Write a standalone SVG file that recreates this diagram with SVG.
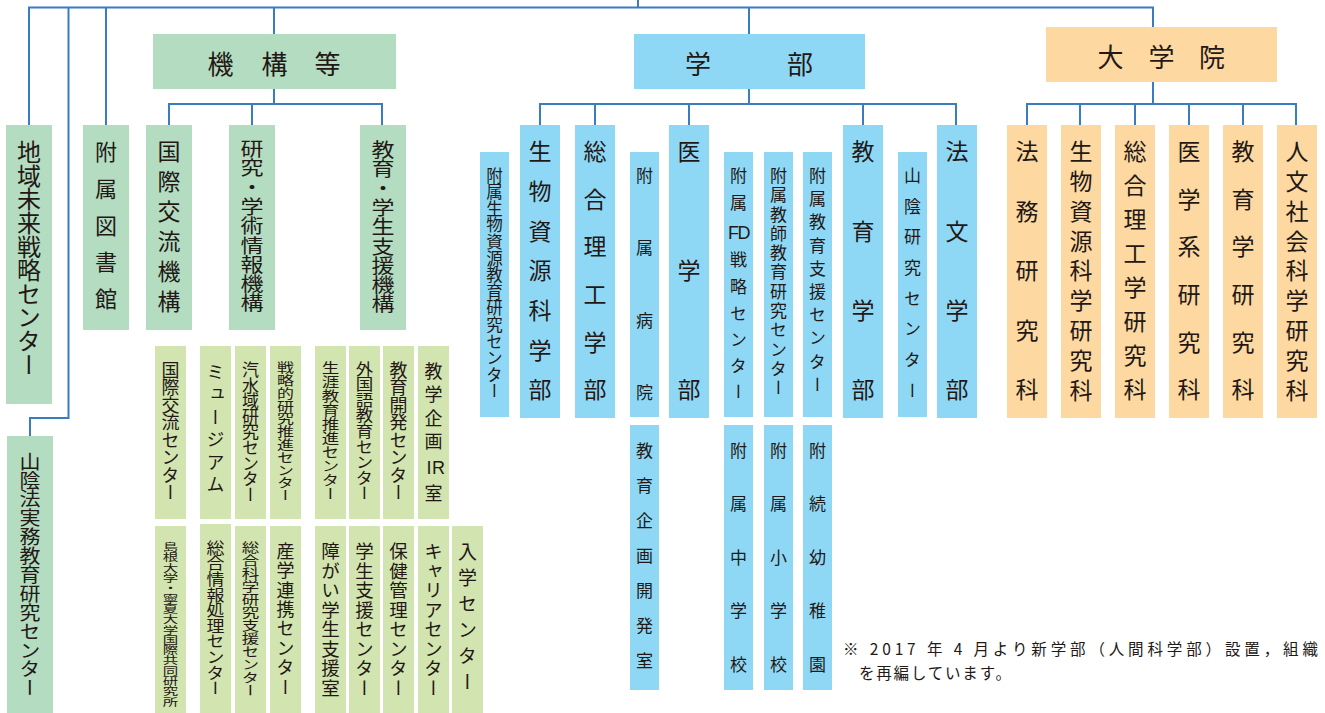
<svg xmlns="http://www.w3.org/2000/svg" width="1325" height="713" viewBox="0 0 1325 713">
<style>
.g{fill:#b3dcc1}.lg{fill:#d2e4b0}.b{fill:#8ed8f6}.o{fill:#fdd8a1}
.v{writing-mode:vertical-rl;text-orientation:upright;font-family:"Noto Sans CJK JP","Noto Sans CJK SC",sans-serif;fill:#231815}
.h{font-family:"Noto Sans CJK JP","Noto Sans CJK SC",sans-serif;fill:#231815;font-size:26px;text-anchor:middle;dominant-baseline:central}
.c{fill:none;stroke:#3a7cc0;stroke-width:2}
.lat{font-family:"Liberation Sans Narrow","Liberation Sans",sans-serif}
.note{font-family:"Noto Sans CJK JP","Noto Sans CJK SC",sans-serif;fill:#231815;font-size:15.5px}
</style>
<rect width="1325" height="713" fill="#fff"/>
<g id="connectors" class="c">
<path d="M638 0V7.5M29 125V7.5H1153V27M68.5 7.5V418H30V436M106 7.5V125M274 7.5V34M749 7.5V34"/>
<path d="M274 89V104M169 125V104H382V125M252 104V125"/>
<path d="M749 89V104M540 125V104H956V125M595 104V125M689 104V125M863 104V125"/>
<path d="M1153 82V104M1027 125V104H1296V125M1080 104V125M1135 104V125M1189 104V125M1243 104V125"/>
</g>
<g id="chiiki"><rect class="g" x="6" y="125" width="46" height="279"/><text class="v" x="29" y="140" font-size="24" letter-spacing="-0.4">地域未来戦略センター</text></g>
<g id="sanin-ho"><rect class="g" x="7" y="436" width="46" height="277"/><text class="v" transform="translate(30 452) scale(1 0.9)" font-size="21">山陰法実務教育研究センター</text></g>
<g id="library"><rect class="g" x="83" y="125" width="46" height="205"/><text class="v" x="106" y="141" font-size="22" letter-spacing="14.7">附属図書館</text></g>
<g id="kikou"><rect class="g" x="153" y="34" width="243" height="55"/><text class="h" x="220.5 274.5 327.5" y="62">機構等</text></g>
<g id="kokusai-kikou"><rect class="g" x="146" y="125" width="46" height="205"/><text class="v" x="169" y="140" font-size="23" letter-spacing="7">国際交流機構</text></g>
<g id="kenkyu-kikou"><rect class="g" x="229" y="125" width="46" height="205"/><text class="v" transform="translate(252 139) scale(1 0.84)" font-size="23">研究・学術情報機構</text></g>
<g id="kyouiku-kikou"><rect class="g" x="360" y="125" width="46" height="205"/><text class="v" transform="translate(383 140) scale(1 0.84)" font-size="23">教育・学生支援機構</text></g>

<g id="s1"><rect class="lg" x="155" y="346" width="31" height="173"/><text class="v" x="170.5" y="361" font-size="18" letter-spacing="-0.5">国際交流センター</text></g>
<g id="s2"><rect class="lg" x="200" y="346" width="31" height="173"/><text class="v" x="215.5" y="363" font-size="18" letter-spacing="4.5">ミュージアム</text></g>
<g id="s3"><rect class="lg" x="235" y="346" width="31" height="173"/><text class="v" x="250.5" y="361" font-size="17" letter-spacing="-1.4">汽水域研究センター</text></g>
<g id="s4"><rect class="lg" x="270" y="346" width="31" height="173"/><text class="v" transform="translate(285.5 361) scale(1 0.753)" font-size="17">戦略的研究推進センター</text></g>
<g id="s5"><rect class="lg" x="315" y="346" width="31" height="173"/><text class="v" transform="translate(330.5 361) scale(1 0.8)" font-size="17.5">生涯教育推進センター</text></g>
<g id="s6"><rect class="lg" x="349" y="346" width="31" height="173"/><text class="v" transform="translate(364.5 361) scale(1 0.89)" font-size="17.5">外国語教育センター</text></g>
<g id="s7"><rect class="lg" x="383" y="346" width="31" height="173"/><text class="v" x="398.5" y="361" font-size="18" letter-spacing="-0.5">教育開発センター</text></g>
<g id="s8"><rect class="lg" x="418" y="346" width="31" height="173"/><text class="v" x="433.5 433.5 433.5 433.5 429 438.5 433.5" y="362 385 409 432 458 458 484" font-size="18">教学企画<tspan class="lat">IR</tspan>室</text></g>

<g id="t1"><rect class="lg" x="155" y="526" width="31" height="187"/><text class="v" transform="translate(170.5 542) scale(1 0.665)" font-size="15.5">島根大学・寧夏大学国際共同研究所</text></g>
<g id="t2"><rect class="lg" x="200" y="524" width="31" height="189"/><text class="v" transform="translate(215.5 540) scale(1 0.867)" font-size="18">総合情報処理センター</text></g>
<g id="t3"><rect class="lg" x="235" y="526" width="31" height="187"/><text class="v" transform="translate(250.5 541) scale(1 0.743)" font-size="17.5">総合科学研究支援センター</text></g>
<g id="t4"><rect class="lg" x="270" y="526" width="31" height="187"/><text class="v" x="285.5" y="542" font-size="18" letter-spacing="1.4">産学連携センター</text></g>
<g id="t5"><rect class="lg" x="315" y="526" width="31" height="187"/><text class="v" x="330.5" y="542" font-size="18.5" letter-spacing="1">障がい学生支援室</text></g>
<g id="t6"><rect class="lg" x="349" y="526" width="31" height="187"/><text class="v" x="364.5" y="542" font-size="18.5" letter-spacing="1">学生支援センター</text></g>
<g id="t7"><rect class="lg" x="383" y="526" width="31" height="187"/><text class="v" x="398.5" y="542" font-size="18.5" letter-spacing="1">保健管理センター</text></g>
<g id="t8"><rect class="lg" x="418" y="526" width="31" height="187"/><text class="v" x="433.5" y="542" font-size="18.5" letter-spacing="1">キャリアセンター</text></g>
<g id="t9"><rect class="lg" x="452" y="526" width="31" height="187"/><text class="v" x="467.5" y="542" font-size="19" letter-spacing="7">入学センター</text></g>

<g id="gakubu"><rect class="b" x="634" y="34" width="231" height="55"/><text class="h" x="698 800" y="62">学部</text></g>
<g id="b1"><rect class="b" x="480" y="152" width="29" height="265"/><text class="v" x="494.5" y="167" font-size="16.5" letter-spacing="0.1">附属生物資源教育研究センター</text></g>
<g id="b2"><rect class="b" x="520" y="125" width="40" height="293"/><text class="v" x="540" y="140" font-size="23" letter-spacing="16.7">生物資源科学部</text></g>
<g id="b3"><rect class="b" x="575" y="125" width="40" height="293"/><text class="v" x="595" y="140" font-size="23" letter-spacing="24.6">総合理工学部</text></g>
<g id="b4"><rect class="b" x="630" y="152" width="29" height="265"/><text class="v" x="644.5" y="167" font-size="17" letter-spacing="55.3">附属病院</text></g>
<g id="b5"><rect class="b" x="669" y="125" width="40" height="293"/><text class="v" x="689" y="140" font-size="23" letter-spacing="96">医学部</text></g>
<g id="b6"><rect class="b" x="724" y="152" width="29" height="265"/><text class="v" x="738.5 738.5 733.5 744 738.5 738.5 738.5 738.5 738.5 738.5" y="167 194 223 223 251 278 305 331 357 383" font-size="17">附属<tspan class="lat" font-size="18">FD</tspan>戦略センター</text></g>
<g id="b7"><rect class="b" x="764" y="152" width="29" height="265"/><text class="v" x="778.5" y="167" font-size="17" letter-spacing="2.3">附属教師教育研究センター</text></g>
<g id="b8"><rect class="b" x="803" y="152" width="29" height="265"/><text class="v" x="817.5" y="167" font-size="17" letter-spacing="6.2">附属教育支援センター</text></g>
<g id="b9"><rect class="b" x="843" y="125" width="40" height="293"/><text class="v" x="863" y="140" font-size="23" letter-spacing="56.3">教育学部</text></g>
<g id="b10"><rect class="b" x="898" y="152" width="29" height="265"/><text class="v" x="912.5" y="167" font-size="17" letter-spacing="13.7">山陰研究センター</text></g>
<g id="b11"><rect class="b" x="937" y="125" width="40" height="293"/><text class="v" x="957" y="140" font-size="23" letter-spacing="56.3">法文学部</text></g>
<g id="c1"><rect class="b" x="630" y="425" width="29" height="265"/><text class="v" x="644.5" y="442" font-size="17" letter-spacing="18">教育企画開発室</text></g>
<g id="c2"><rect class="b" x="724" y="425" width="29" height="265"/><text class="v" x="738.5" y="442" font-size="17" letter-spacing="36.5">附属中学校</text></g>
<g id="c3"><rect class="b" x="764" y="425" width="29" height="265"/><text class="v" x="778.5" y="442" font-size="17" letter-spacing="36.5">附属小学校</text></g>
<g id="c4"><rect class="b" x="803" y="425" width="29" height="265"/><text class="v" x="817.5" y="442" font-size="17" letter-spacing="36.5">附続幼稚園</text></g>

<g id="daigakuin"><rect class="o" x="1046" y="27" width="231" height="55"/><text class="h" x="1110.5 1161.5 1212" y="55">大学院</text></g>
<g id="o1"><rect class="o" x="1007" y="125" width="40" height="293"/><text class="v" x="1027" y="140" font-size="23" letter-spacing="36.5">法務研究科</text></g>
<g id="o2"><rect class="o" x="1061" y="125" width="40" height="293"/><text class="v" x="1081" y="140" font-size="23" letter-spacing="6.8">生物資源科学研究科</text></g>
<g id="o3"><rect class="o" x="1115" y="125" width="40" height="293"/><text class="v" x="1135" y="140" font-size="23" letter-spacing="11">総合理工学研究科</text></g>
<g id="o4"><rect class="o" x="1169" y="125" width="40" height="293"/><text class="v" x="1189" y="140" font-size="23" letter-spacing="24.6">医学系研究科</text></g>
<g id="o5"><rect class="o" x="1223" y="125" width="40" height="293"/><text class="v" x="1243" y="140" font-size="23" letter-spacing="24.6">教育学研究科</text></g>
<g id="o6"><rect class="o" x="1277" y="125" width="40" height="293"/><text class="v" x="1297" y="140" font-size="23" letter-spacing="6.8">人文社会科学研究科</text></g>

<g id="footnote">
<text class="note"><tspan x="843" y="655" textLength="475" lengthAdjust="spacing">※ 2017 年 4 月より新学部（人間科学部）設置，組織</tspan><tspan x="859" y="678.5" letter-spacing="1.8">を再編しています。</tspan></text>
</g>
</svg>
